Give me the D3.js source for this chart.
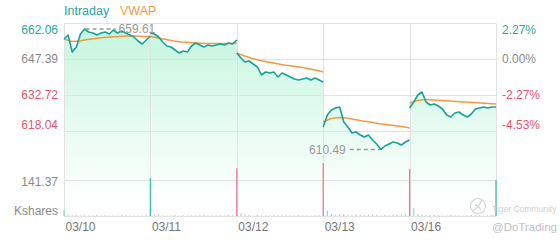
<!doctype html>
<html>
  <head>
    <meta charset="utf-8">
    <title>Intraday / VWAP</title>
    <script src="https://cdnjs.cloudflare.com/ajax/libs/d3/7.8.5/d3.min.js"></script>
    <style>
      body { margin: 0; background: #fff; }
      text { font-family: "Liberation Sans", Arial, sans-serif; }
    </style>
  </head>
  <body>
    <div id="chart"></div>
    <script>
      // tick labels and reference values
      const days = ["03/10", "03/11", "03/12", "03/13", "03/16"];
      const priceTicks = [662.06, 647.39, 632.72, 618.04];
      const prevClose = 647.39;
      const volTick = 141.37;

      // intraday price, one array per session
      const price0310 = [655.54, 657.17, 650.24, 652.28, 657.58, 659.61, 658.39, 657.98, 657.17, 657.98, 658.39, 657.58, 659.21, 657.98, 658.80, 657.98, 657.17, 656.35, 654.72, 653.50, 655.13, 656.76];
      const price0311 = [657.98, 657.58, 656.35, 654.32, 652.69, 652.28, 651.06, 649.83, 650.65, 650.24, 652.69, 653.91, 653.09, 652.28, 653.09, 652.69, 653.09, 653.50, 653.09, 653.91, 653.50, 655.13];
      const price0312 = [649.83, 647.79, 646.16, 646.57, 645.35, 644.13, 640.87, 642.09, 641.68, 642.09, 640.05, 641.68, 640.87, 640.05, 639.24, 638.83, 639.24, 639.64, 638.83, 639.64, 638.83, 638.01];
      const price0313 = [619.67, 624.56, 626.60, 627.42, 627.82, 621.71, 619.67, 617.22, 617.63, 616.41, 615.59, 616.41, 614.37, 612.74, 610.49, 611.92, 612.74, 613.55, 613.15, 612.33, 613.55, 614.37];
      const price0316 = [627.42, 629.86, 632.72, 633.94, 629.86, 628.64, 629.05, 628.23, 627.01, 624.56, 623.75, 625.38, 625.78, 624.56, 623.75, 624.97, 627.01, 627.42, 627.82, 627.42, 627.82, 627.82];

      // vwap per session
      const vwap0310 = [655.54, 654.52, 654.72, 655.34, 655.74, 656.15, 656.35, 656.56, 656.76, 656.76, 656.56, 656.56];
      const vwap0311 = [656.56, 655.95, 655.34, 654.72, 654.32, 654.11, 653.91, 653.70, 653.70, 653.70, 653.70, 653.91];
      const vwap0312 = [649.83, 648.61, 647.59, 646.77, 646.16, 645.55, 644.94, 644.53, 644.13, 643.51, 642.90, 642.09];
      const vwap0313 = [621.71, 623.14, 623.54, 623.34, 622.73, 622.12, 621.71, 621.10, 620.69, 620.28, 619.87, 619.26];
      const vwap0316 = [629.45, 630.47, 630.88, 630.68, 630.47, 630.27, 630.06, 629.86, 629.66, 629.45, 629.25, 629.05];

      // volume (Kshares), aligned with price points
      const vol0310 = [24, 5, 3, 4, 2, 3, 2, 3, 4, 2, 3, 2, 3, 2, 4, 3, 2, 3, 2, 3, 4, 5];
      const vol0311 = [149, 6, 4, 3, 2, 3, 4, 2, 3, 2, 3, 2, 3, 4, 2, 3, 2, 3, 2, 4, 3, 6];
      const vol0312 = [188, 10, 5, 4, 3, 4, 3, 2, 3, 4, 2, 3, 3, 2, 3, 4, 2, 3, 2, 3, 3, 5];
      const vol0313 = [208, 22, 8, 5, 6, 8, 4, 3, 5, 4, 3, 5, 7, 4, 3, 5, 3, 4, 4, 3, 8, 12];
      const vol0316 = [185, 30, 8, 5, 4, 3, 4, 3, 2, 3, 4, 2, 3, 2, 3, 4, 2, 3, 2, 3, 4, 141];
      const openSide = ["up", "up", "down", "down", "down"];

      const prices = [price0310, price0311, price0312, price0313, price0316];
      const vwaps = [vwap0310, vwap0311, vwap0312, vwap0313, vwap0316];
      const vols = [vol0310, vol0311, vol0312, vol0313, vol0316];

      const teal = "#17a396", orange = "#f29a3f", pink = "#e2566f", gray = "#8a8a8a";
      const plotL = 64, plotR = 496, plotT = 23, priceB = 131, volB = 216;

      const svg = d3.select("#chart").append("svg")
        .attr("width", 560).attr("height", 240);

      const x = d3.scaleLinear().domain([0, 5]).range([plotL, plotR]);
      const y = d3.scaleLinear().domain([618.04, 662.06]).range([priceB, plotT]);
      const yv = d3.scaleLinear().domain([0, volTick]).range([volB, 180]);

      const toPts = (arr, d) => arr.map((v, i) => ({ t: d + i / (arr.length - 1), v, d, i }));

      const grad = svg.append("defs").append("linearGradient")
        .attr("id", "fill").attr("gradientUnits", "userSpaceOnUse")
        .attr("x1", 0).attr("x2", 0).attr("y1", plotT).attr("y2", 205);
      grad.append("stop").attr("offset", 0).attr("stop-color", "#c4f5dd");
      grad.append("stop").attr("offset", 0.55).attr("stop-color", "#e6fbf1");
      grad.append("stop").attr("offset", 1).attr("stop-color", "#ffffff");

      // area under price
      const area = d3.area().x(d => x(d.t)).y0(volB).y1(d => y(d.v));
      svg.append("g").selectAll("path")
        .data(prices.map(toPts))
        .join("path")
        .attr("d", area)
        .attr("fill", "url(#fill)");

      // grid
      const grid = svg.append("g").attr("stroke", "#e2e2e2").attr("stroke-width", 1);
      grid.selectAll(".h")
        .data([...priceTicks.map(y), yv(volTick), yv(0)])
        .join("line")
        .attr("x1", plotL).attr("x2", plotR)
        .attr("y1", d => Math.round(d) + 0.5).attr("y2", d => Math.round(d) + 0.5);
      grid.selectAll(".v")
        .data(d3.range(6))
        .join("line")
        .attr("x1", d => Math.round(x(d)) + 0.5).attr("x2", d => Math.round(x(d)) + 0.5)
        .attr("y1", plotT).attr("y2", volB);

      // volume bars
      const volPts = vols.flatMap((arr, d) => toPts(arr, d).map(p => {
        let up;
        if (p.i === 0) up = openSide[d] === "up";
        else up = prices[d][p.i] >= prices[d][p.i - 1];
        return { ...p, up };
      }));
      svg.append("g").selectAll("line")
        .data(volPts)
        .join("line")
        .attr("x1", d => x(d.t)).attr("x2", d => x(d.t))
        .attr("y1", yv(0)).attr("y2", d => yv(d.v))
        .attr("stroke", d => d.up ? "#3fbfb3" : "#ee7b90")
        .attr("stroke-opacity", d => d.v < 40 ? 0.55 : 1)
        .attr("stroke-width", 1.3);

      // lines
      const line = d3.line().x(d => x(d.t)).y(d => y(d.v));
      svg.append("g").selectAll("path")
        .data(vwaps.map(toPts))
        .join("path")
        .attr("d", line)
        .attr("fill", "none").attr("stroke", orange).attr("stroke-width", 1.5);
      svg.append("g").selectAll("path")
        .data(prices.map(toPts))
        .join("path")
        .attr("d", line)
        .attr("fill", "none").attr("stroke", teal).attr("stroke-width", 1.6)
        .attr("stroke-linejoin", "round");

      // axes
      const tickColor = v => v > prevClose + 0.001 ? "#2aa69c" : (v < prevClose - 0.001 ? pink : gray);
      const edgeShift = (v, i) => i === 0 ? "0.85em" : (i === priceTicks.length - 1 ? "-0.2em" : "0.32em");

      const yLeft = svg.append("g").attr("transform", `translate(${plotL},0)`)
        .call(d3.axisLeft(y).tickValues(priceTicks).tickSize(0).tickPadding(6).tickFormat(d => d.toFixed(2)));
      const yRight = svg.append("g").attr("transform", `translate(${plotR},0)`)
        .call(d3.axisRight(y).tickValues(priceTicks).tickSize(0).tickPadding(6)
          .tickFormat(d => ((d / prevClose - 1) * 100).toFixed(2) + "%"));
      [yLeft, yRight].forEach(g => {
        g.select(".domain").remove();
        g.selectAll("text")
          .attr("font-size", 12).attr("font-family", null)
          .attr("fill", d => tickColor(d))
          .attr("dy", edgeShift);
      });

      const vAxis = svg.append("g").attr("transform", `translate(${plotL},0)`)
        .call(d3.axisLeft(yv).tickValues([volTick, 0]).tickSize(0).tickPadding(6)
          .tickFormat(d => d === 0 ? "Kshares" : d.toFixed(2)));
      vAxis.select(".domain").remove();
      vAxis.selectAll("text")
        .attr("font-size", 12).attr("font-family", null).attr("fill", gray)
        .attr("dy", d => d === 0 ? "-0.1em" : "0.45em");

      const xAxis = svg.append("g").attr("transform", `translate(0,${volB})`)
        .call(d3.axisBottom(x).tickValues(d3.range(5)).tickSize(0).tickPadding(6).tickFormat(i => days[i]));
      xAxis.select(".domain").remove();
      xAxis.selectAll("text")
        .attr("font-size", 12).attr("font-family", null).attr("fill", "#777")
        .attr("text-anchor", "start").attr("dx", 1);

      // legend
      svg.append("text").attr("x", plotL).attr("y", 15).attr("font-size", 12.5)
        .attr("fill", "#2aa69c").text("Intraday");
      svg.append("text").attr("x", 120).attr("y", 15).attr("font-size", 12.5)
        .attr("fill", orange).text("VWAP");

      // high / low markers
      const allPts = prices.flatMap(toPts);
      const hi = d3.greatest(allPts, d => d.v);
      const lo = d3.least(allPts, d => d.v);
      const mark = svg.append("g").attr("font-size", 12).attr("fill", "#999");
      mark.append("line")
        .attr("x1", x(hi.t) + 1).attr("x2", x(hi.t) + 31)
        .attr("y1", y(hi.v)).attr("y2", y(hi.v));
      mark.append("text").attr("x", x(hi.t) + 34).attr("y", y(hi.v)).attr("dy", "0.35em")
        .text(hi.v.toFixed(2));
      mark.append("line")
        .attr("x1", x(lo.t) - 31).attr("x2", x(lo.t) - 1)
        .attr("y1", y(lo.v)).attr("y2", y(lo.v));
      mark.append("text").attr("x", x(lo.t) - 35).attr("y", y(lo.v)).attr("dy", "0.35em")
        .attr("text-anchor", "end").text(lo.v.toFixed(2));
      mark.selectAll("line")
        .attr("stroke", "#999").attr("stroke-width", 1.5).attr("stroke-dasharray", "4,3");

      // watermark
      const wm = svg.append("g").attr("fill", "none").attr("stroke", "#d4d4d4").attr("stroke-width", 1.2);
      wm.append("circle").attr("cx", 478).attr("cy", 206).attr("r", 7.5);
      wm.append("path").attr("d", "M472,211 Q479,208 482,199");
      wm.append("path").attr("d", "M475,205 Q479,206 481,210");
      svg.append("text").attr("x", 492).attr("y", 212).attr("font-size", 8.5)
        .attr("fill", "#d0d0d0").text("Tiger Community");
      svg.append("text").attr("x", 492).attr("y", 231).attr("font-size", 11.5)
        .attr("fill", "#c0c0c0").text("@DoTrading");
    </script>
  </body>
</html>
